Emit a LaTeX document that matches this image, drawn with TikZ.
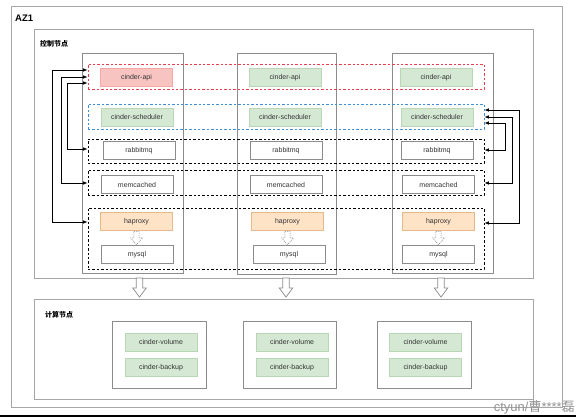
\documentclass[tikz,border=0pt]{standalone}
\usepackage{fontspec}
\setmainfont{Liberation Sans}
\newfontfamily\cjk{Noto Sans CJK SC}
\usetikzlibrary{arrows.meta}
\definecolor{redfill}{HTML}{F8C4C2}
\definecolor{greenfill}{HTML}{D5E8D4}
\definecolor{greenline}{HTML}{B9D7B7}
\definecolor{orangefill}{HTML}{FFE3C6}
\definecolor{orangeline}{HTML}{E7B98A}
\definecolor{redline}{HTML}{E83E4E}
\definecolor{blueline}{HTML}{3E8FD6}
\definecolor{boxgray}{HTML}{A6A6A6}
\definecolor{svcgray}{HTML}{8C8C8C}
\definecolor{txtgray}{HTML}{333333}
\tikzset{
  svc/.style={draw=svcgray, line width=0.6pt, minimum width=72pt, minimum height=18pt, inner sep=0pt, text=txtgray, font=\fontsize{7}{8}\selectfont},
  apisvc/.style={svc, fill=redfill, draw=redfill!85!red},
  greensvc/.style={svc, fill=greenfill, draw=greenline},
  orangesvc/.style={svc, fill=orangefill, draw=orangeline},
  colbox/.style={draw=svcgray, line width=0.7pt, inner sep=0pt},
  bigbox/.style={draw=boxgray, line width=0.9pt},
  rowbox/.style={draw, line width=0.65pt, dash pattern=on 2.4pt off 2pt, minimum width=396pt, inner sep=0pt},
  bi/.style={line width=0.8pt, {Latex[length=4.5pt,width=3.5pt]}-{Latex[length=4.5pt,width=3.5pt]}},
  blockarrow/.style={draw=svcgray, line width=0.7pt, fill=white},
  pics/hdown/.style={code={\draw[blockarrow] (-3.3,0) -- (3.3,0) -- (3.3,10) -- (6.8,10) -- (0,19) -- (-6.8,10) -- (-3.3,10) -- cycle;}},
  pics/hsmall/.style={code={\draw[draw=svcgray, line width=0.55pt, dash pattern=on 1.2pt off 1pt] (-2.6,0.5) -- (2.6,0.5) -- (2.6,7) -- (6,7) -- (0,14) -- (-6,7) -- (-2.6,7) -- cycle;}},
  lbl/.style={font=\cjk\bfseries\fontsize{7}{8}\selectfont, anchor=west, inner sep=0pt}
}
\begin{document}
\begin{tikzpicture}[x=1pt,y=-1pt]
\useasboundingbox (0,0) rectangle (576,417);
\clip (0,0) rectangle (576,417);
\fill[white] (0,0) rectangle (576,417);
% outer boxes
\draw[bigbox] (11,6) rectangle (562,407);
\node[font=\bfseries\fontsize{9.5}{10}\selectfont, anchor=west, inner sep=0pt] (az) at (15,18) {AZ1};
\draw[bigbox] (34,29) rectangle (533,278);
\node[lbl] (ctl) at (40,44) {控制节点};
\draw[bigbox] (34,299) rectangle (533,399);
\node[lbl] (cmp) at (45,315) {计算节点};
% column boxes
\node[colbox, minimum width=101pt, minimum height=220pt] (col1) at (132.5,163) {};
\node[colbox, minimum width=99pt, minimum height=221pt] (col2) at (286.5,163.5) {};
\node[colbox, minimum width=101pt, minimum height=220pt] (col3) at (442.5,163) {};
% dashed rows
\node[rowbox, draw=redline, minimum height=25pt] (rowapi) at (286,76.5) {};
\node[rowbox, draw=blueline, minimum height=25pt] (rowsch) at (286,116.5) {};
\node[rowbox, minimum height=24pt] (rowrab) at (286,151) {};
\node[rowbox, minimum height=25pt] (rowmem) at (286,182.5) {};
\node[rowbox, minimum height=61pt] (rowha) at (286,238.5) {};
% column 1
\node[apisvc] (api1) at (136.5,77.5) {cinder-api};
\node[greensvc] (sch1) at (137,117) {cinder-scheduler};
\node[svc] (rab1) at (139,150.5) {rabbitmq};
\node[svc] (mem1) at (137,184.5) {memcached};
\node[orangesvc] (ha1) at (136.5,221.5) {haproxy};
\node[svc] (my1) at (137,254.5) {mysql};
% column 2
\node[greensvc] (api2) at (285,77.5) {cinder-api};
\node[greensvc] (sch2) at (285,117) {cinder-scheduler};
\node[svc] (rab2) at (286,150.5) {rabbitmq};
\node[svc] (mem2) at (286,184.5) {memcached};
\node[orangesvc] (ha2) at (287.5,221.5) {haproxy};
\node[svc] (my2) at (289,254.5) {mysql};
% column 3
\node[greensvc] (api3) at (436,77.5) {cinder-api};
\node[greensvc] (sch3) at (437,117) {cinder-scheduler};
\node[svc] (rab3) at (437,150.5) {rabbitmq};
\node[svc] (mem3) at (438.5,184.5) {memcached};
\node[orangesvc] (ha3) at (438.5,221.5) {haproxy};
\node[svc] (my3) at (438.5,254.5) {mysql};
% haproxy -> mysql dotted hollow arrows
\pic at (ha1.south) {hsmall};
\pic at (ha2.south) {hsmall};
\pic at (ha3.south) {hsmall};
% left connectors
\draw[bi] (rowapi.west |- 0,70) -- (52,70) |- (rowha.west |- 0,222);
\draw[bi] (rowapi.west |- 0,77) -- (61,77) |- (rowmem.west |- 0,183);
\draw[bi] (rowapi.west |- 0,83) -- (67,83) |- (rowrab.west |- 0,149);
% right connectors
\draw[bi] (rowsch.east |- 0,110) -- (519,110) |- (rowha.east |- 0,223);
\draw[bi] (rowsch.east |- 0,117) -- (512,117) |- (rowmem.east |- 0,183);
\draw[bi] (rowsch.east |- 0,123) -- (505,123) |- (rowrab.east |- 0,150);
% block arrows to compute
\pic at (139.5,278) {hdown};
\pic at (286,278) {hdown};
\pic at (441,278) {hdown};
% compute boxes
\node[colbox, minimum width=94pt, minimum height=67pt] (cb1) at (159,354.5) {};
\node[colbox, minimum width=93pt, minimum height=67pt] (cb2) at (289.5,354.5) {};
\node[colbox, minimum width=94pt, minimum height=67pt] (cb3) at (424,354.5) {};
\node[greensvc] (vol1) at (161,342) {cinder-volume};
\node[greensvc] (bak1) at (161,367.5) {cinder-backup};
\node[greensvc] (vol2) at (292,342) {cinder-volume};
\node[greensvc] (bak2) at (292,367.5) {cinder-backup};
\node[greensvc] (vol3) at (425.5,342) {cinder-volume};
\node[greensvc] (bak3) at (425.5,367.5) {cinder-backup};
% bottom edge and watermark
\fill[black] (0,414.5) rectangle (576,417);
\node[anchor=base east, inner sep=0pt, text=gray!85, font=\fontsize{13}{13}\selectfont] (wm) at (575,411.5) {ctyun/{\cjk 曹}****{\cjk 磊}};
\end{tikzpicture}
\end{document}
